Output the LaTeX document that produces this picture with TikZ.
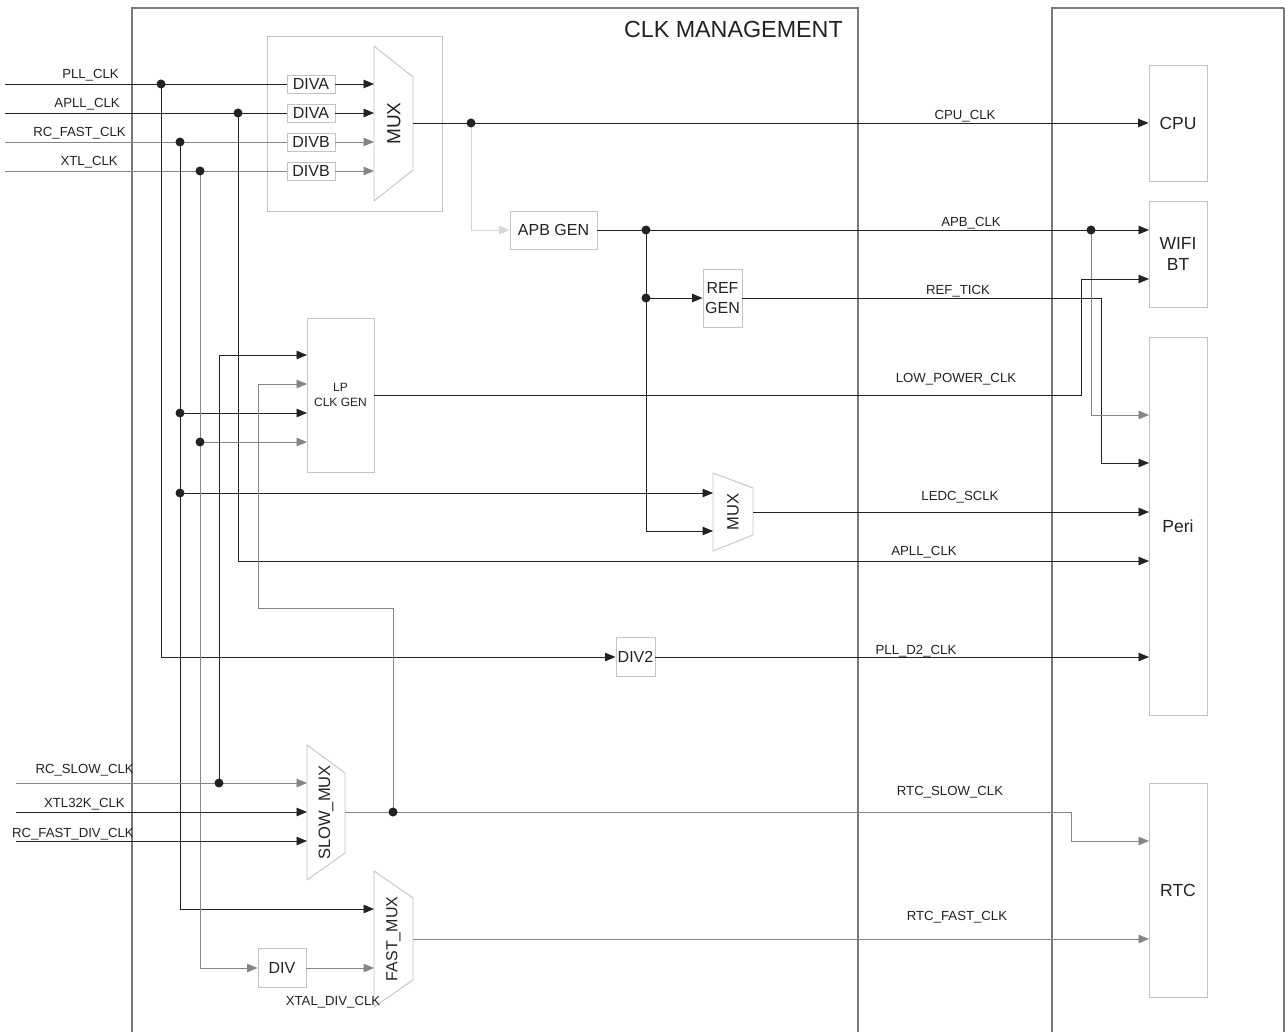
\documentclass[tikz,border=0pt]{standalone}
\usepackage{fontspec}
\setmainfont{Liberation Sans}
\usetikzlibrary{arrows.meta}
\definecolor{framegray}{HTML}{7A7A7A}
\definecolor{boxgray}{HTML}{C4C4C4}
\definecolor{wiredark}{HTML}{222222}
\definecolor{wiregray}{HTML}{858585}
\definecolor{wirelight}{HTML}{D6D6D6}
\newcommand\sigfnt{\fontsize{13.2}{15}\selectfont}
\newcommand\blkfnt{\fontsize{16}{20.5}\selectfont}
\newcommand\bigfnt{\fontsize{17.5}{21}\selectfont}
\newcommand\lpfnt{\fontsize{12}{15}\selectfont}
\newcommand\ttlfnt{\fontsize{23.3}{26}\selectfont}
\begin{document}
\begin{tikzpicture}[x=1pt,y=-1pt,
  frame/.style={draw=framegray,line width=2.4pt},
  framethin/.style={draw=framegray,line width=1.2pt},
  blk/.style={draw=boxgray,line width=0.9pt,inner sep=0pt,align=center,font=\blkfnt,text=wiredark},
  bigblk/.style={blk,font=\bigfnt},
  trap/.style={draw=boxgray,line width=0.9pt},
  wire/.style={draw=wiredark,line width=0.95pt},
  gwire/.style={draw=wiregray,line width=0.95pt},
  lwire/.style={draw=wirelight,line width=0.95pt},
  arr/.style={-{Triangle[length=10.5pt,width=8.5pt]}},
  sig/.style={font=\sigfnt,inner sep=0pt,text=wiredark},
  jdot/.style={fill=wiredark},
]
\useasboundingbox (0,0) rectangle (1286,1032);

% frames
\draw[frame] (132,1032) -- (132,8) -- (858,8) -- (858,1032);
\draw[frame] (1052,1032) -- (1052,8) -- (1284,8);
\draw[framethin] (1284,8) -- (1284,1032);
\node[sig,font=\ttlfnt,anchor=base east] (title) at (843,38) {CLK MANAGEMENT};

% blocks
\node[blk,minimum width=175pt,minimum height=175pt] (muxbox) at (354.5,123.5) {};
\node[blk,minimum width=48pt,minimum height=18pt] (diva1) at (311,84) {DIVA};
\node[blk,minimum width=48pt,minimum height=18pt] (diva2) at (311,113) {DIVA};
\node[blk,minimum width=48pt,minimum height=18pt] (divb1) at (311,142) {DIVB};
\node[blk,minimum width=48pt,minimum height=18pt] (divb2) at (311,171) {DIVB};
\node[blk,minimum width=87pt,minimum height=38pt] (apbgen) at (553.5,230) {APB GEN};
\node[blk,minimum width=39pt,minimum height=58pt] (refgen) at (722.5,298) {REF\\GEN};
\node[blk,font=\lpfnt,minimum width=67pt,minimum height=154pt] (lpgen) at (340.5,395) {LP\\CLK GEN};
\node[blk,minimum width=39pt,minimum height=39pt] (div2) at (635.5,657) {DIV2};
\node[blk,minimum width=48pt,minimum height=39pt] (div) at (282,968) {DIV};
\node[bigblk,minimum width=58pt,minimum height=116pt] (cpu) at (1178,123) {CPU};
\node[bigblk,minimum width=58pt,minimum height=106pt] (wifi) at (1178,254) {WIFI\\BT};
\node[bigblk,minimum width=58pt,minimum height=378pt] (peri) at (1178,526) {Peri};
\node[bigblk,minimum width=58pt,minimum height=214pt] (rtc) at (1178,890) {RTC};

% trapezoid muxes
\draw[trap] (374,46) -- (413,77) -- (413,170) -- (374,201) -- cycle;
\node[sig,font=\fontsize{19}{22}\selectfont,rotate=90] (mux) at (394,123.5) {MUX};
\draw[trap] (713,473) -- (753,488) -- (753,535) -- (713,551) -- cycle;
\node[sig,font=\fontsize{16.5}{20}\selectfont,rotate=90] (ledcmux) at (733,512) {MUX};
\draw[trap] (307,745) -- (345,773) -- (345,853) -- (307,880) -- cycle;
\node[sig,font=\fontsize{16.5}{20}\selectfont,rotate=90] (slowmux) at (326,812.5) {SLOW\_MUX};
\draw[trap] (374,871) -- (413,898) -- (413,980) -- (374,1007) -- cycle;
\node[sig,font=\fontsize{16}{20}\selectfont,rotate=90] (fastmux) at (393.5,939) {FAST\_MUX};

% connection points
\coordinate (inA) at (5,84);
\coordinate (inB) at (5,113);
\coordinate (inC) at (5,142);
\coordinate (inD) at (5,171);
\coordinate (inE) at (16,783);
\coordinate (inF) at (16,812);
\coordinate (inG) at (16,841);
\coordinate (mx1) at (374,84);
\coordinate (mx2) at (374,113);
\coordinate (mx3) at (374,142);
\coordinate (mx4) at (374,171);
\coordinate (mxo) at (413,123);
\coordinate (lm1) at (713,493);
\coordinate (lm2) at (713,531);
\coordinate (lmo) at (753,512);
\coordinate (sm1) at (307,783);
\coordinate (sm2) at (307,812);
\coordinate (sm3) at (307,841);
\coordinate (smo) at (345,812);
\coordinate (fm1) at (374,909);
\coordinate (fm2) at (374,968);
\coordinate (fmo) at (413,939);
\coordinate (lpA) at (307,355);
\coordinate (lpB) at (307,384);
\coordinate (lpC) at (307,413);
\coordinate (lpD) at (307,442);
\coordinate (lpo) at (374,395);
\coordinate (wf1) at (1149,230);
\coordinate (wf2) at (1149,279);
\coordinate (pe1) at (1149,415);
\coordinate (pe2) at (1149,463);
\coordinate (pe3) at (1149,512);
\coordinate (pe4) at (1149,561);
\coordinate (pe5) at (1149,657);
\coordinate (rt1) at (1149,841);
\coordinate (rt2) at (1149,939);

% top inputs
\draw[wire] (inA) -- (diva1.west);
\draw[wire] (inB) -- (diva2.west);
\draw[gwire] (inC) -- (divb1.west);
\draw[gwire] (inD) -- (divb2.west);
\draw[wire,arr] (diva1.east) -- (mx1);
\draw[wire,arr] (diva2.east) -- (mx2);
\draw[gwire,arr] (divb1.east) -- (mx3);
\draw[gwire,arr] (divb2.east) -- (mx4);
\node[sig,anchor=base east] (lA) at (119,79) {PLL\_CLK};
\node[sig,anchor=base east] (lB) at (120,108) {APLL\_CLK};
\node[sig,anchor=base east] (lC) at (126,137) {RC\_FAST\_CLK};
\node[sig,anchor=base east] (lD) at (118,166) {XTL\_CLK};

% PLL branch
\draw[wire,arr] (161,84) -- (161,657) -- (div2.west);
\draw[wire,arr] (div2.east) -- (pe5);
% APLL branch
\draw[wire,arr] (238,113) -- (238,561) -- (pe4);
% RC_FAST branch
\draw[wire,arr] (180,142) -- (180,909) -- (fm1);
\draw[wire,arr] (180,413) -- (lpC);
\draw[wire,arr] (180,493) -- (lm1);
% XTL branch
\draw[gwire,arr] (200,171) -- (200,968) -- (div.west);
\draw[gwire,arr] (200,442) -- (lpD);
\draw[gwire,arr] (div.east) -- (fm2);
% RC_SLOW / LP inputs
\draw[wire,arr] (219,783) -- (219,355) -- (lpA);
\draw[gwire,arr] (393,812) -- (393,608) -- (258,608) -- (258,384) -- (lpB);

% main mux output
\draw[wire,arr] (mxo) -- (cpu.west);
\draw[lwire,arr] (471,123) -- (471,230) -- (apbgen.west);
\draw[wire,arr] (apbgen.east) -- (wf1);
\draw[wire,arr] (646,230) -- (646,531) -- (lm2);
\draw[wire,arr] (646,298) -- (refgen.west);
\draw[wire,arr] (refgen.east) -- (1101,298) -- (1101,463) -- (pe2);
\draw[gwire,arr] (1091,230) -- (1091,415) -- (pe1);
\draw[wire,arr] (lpo) -- (1081,395) -- (1081,279) -- (wf2);
\draw[wire,arr] (lmo) -- (pe3);

% slow inputs
\draw[gwire,arr] (inE) -- (sm1);
\draw[wire,arr] (inF) -- (sm2);
\draw[wire,arr] (inG) -- (sm3);
\node[sig,anchor=base east] (lE) at (134,773) {RC\_SLOW\_CLK};
\node[sig,anchor=base east] (lF) at (125,807) {XTL32K\_CLK};
\node[sig,anchor=base east] (lG) at (134,837) {RC\_FAST\_DIV\_CLK};
\draw[gwire,arr] (smo) -- (1071,812) -- (1071,841) -- (rt1);
\draw[gwire,arr] (fmo) -- (rt2);
\node[sig,anchor=base] (lxd) at (333,1005) {XTAL\_DIV\_CLK};

% junction dots
\foreach \p in {(161,84),(238,113),(180,142),(200,171),(471,123),(646,230),(646,298),(1091,230),(180,413),(200,442),(180,493),(219,783),(393,812)}
  \fill[jdot] \p circle (4.5);

% output signal labels
\node[sig,anchor=base] (cpuclk) at (965,120) {CPU\_CLK};
\node[sig,anchor=base] (apbclk) at (971,226.5) {APB\_CLK};
\node[sig,anchor=base] (reftick) at (958,294.5) {REF\_TICK};
\node[sig,anchor=base] (lpclk) at (956,383) {LOW\_POWER\_CLK};
\node[sig,anchor=base] (ledc) at (960,500) {LEDC\_SCLK};
\node[sig,anchor=base] (apllo) at (924,555) {APLL\_CLK};
\node[sig,anchor=base] (plld2) at (916,654) {PLL\_D2\_CLK};
\node[sig,anchor=base] (rtcslow) at (950,795) {RTC\_SLOW\_CLK};
\node[sig,anchor=base] (rtcfast) at (957,920) {RTC\_FAST\_CLK};
\end{tikzpicture}
\end{document}
